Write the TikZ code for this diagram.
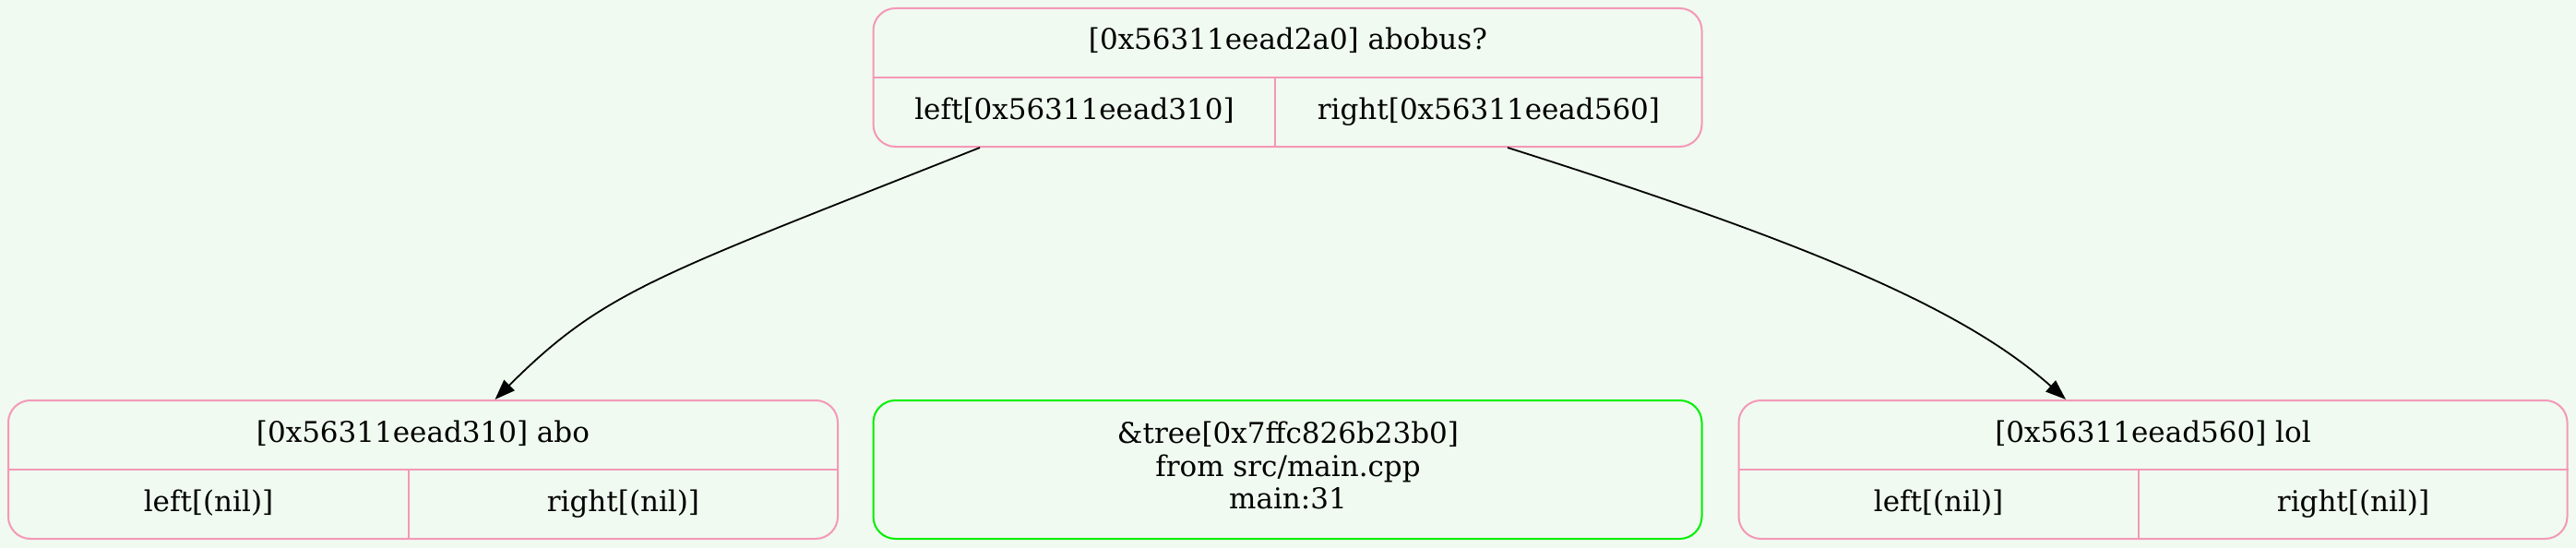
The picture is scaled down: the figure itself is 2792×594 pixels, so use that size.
\documentclass[tikz,border=0pt]{standalone}
\usepackage{fontspec}
\setmainfont{DejaVu Serif}
\usetikzlibrary{arrows.meta}
\definecolor{bgc}{RGB}{240,250,240}
\definecolor{pinkc}{RGB}{244,152,184}
\definecolor{greenc}{RGB}{0,238,0}
\tikzset{
  rec/.style={draw=pinkc, line width=2pt, rounded corners=24pt, fill=bgc, inner sep=0pt},
  grec/.style={draw=greenc, line width=2pt, rounded corners=24pt, fill=bgc, inner sep=0pt},
  recline/.style={draw=pinkc, line width=1.8pt},
  lbl/.style={inner sep=0pt, anchor=base, font=\fontsize{31}{35.5}\selectfont},
  edge/.style={draw=black, line width=1.8pt, -{Triangle[length=22pt,width=16pt]}}
}
\begin{document}
\begin{tikzpicture}[x=1pt,y=-1pt]
\fill[bgc] (0,0) rectangle (2792,594);
\useasboundingbox (0,0) rectangle (2792,594);
% records
\node[rec, minimum width=898pt, minimum height=150pt] (n0) at (1395.5,84) {};
\node[rec, minimum width=899pt, minimum height=150pt] (n1) at (458.5,509) {};
\node[grec, minimum width=898pt, minimum height=150pt] (n2) at (1395.5,509) {};
\node[rec, minimum width=898pt, minimum height=150pt] (n3) at (2333.5,509) {};
% dividers
\draw[recline] (n0.west) -- (n0.east);
\draw[recline] (1382,84) -- (1382,159);
\draw[recline] (n1.west) -- (n1.east);
\draw[recline] (443,509) -- (443,584);
\draw[recline] (n3.west) -- (n3.east);
\draw[recline] (2318,509) -- (2318,584);
% texts
\node[lbl] (n0t) at (1396,54) {[0x56311eead2a0] abobus?};
\node[lbl] (n0l) at (1164.5,129) {left[0x56311eead310]};
\node[lbl] (n0r) at (1613.5,129) {right[0x56311eead560]};
\node[lbl] (n1t) at (458.5,479) {[0x56311eead310] abo};
\node[lbl] (n1l) at (226,554) {left[(nil)]};
\node[lbl] (n1r) at (675.5,554) {right[(nil)]};
\node[lbl] (n2a) at (1396,480.7) {\&tree[0x7ffc826b23b0]};
\node[lbl] (n2b) at (1396,516) {from src/main.cpp};
\node[lbl] (n2c) at (1396,551.3) {main:31};
\node[lbl] (n3t) at (2333.5,479) {[0x56311eead560] lol};
\node[lbl] (n3l) at (2101,554) {left[(nil)]};
\node[lbl] (n3r) at (2550.5,554) {right[(nil)]};
% edges
\draw[edge] ([xshift=-333.5pt]n0.south) .. controls (712,299) and (656,314) .. ([xshift=78pt]n1.north);
\draw[edge] ([xshift=238.5pt]n0.south) .. controls (1964,264.6) and (2129,335) .. ([xshift=-94.5pt]n3.north);
\end{tikzpicture}
\end{document}
